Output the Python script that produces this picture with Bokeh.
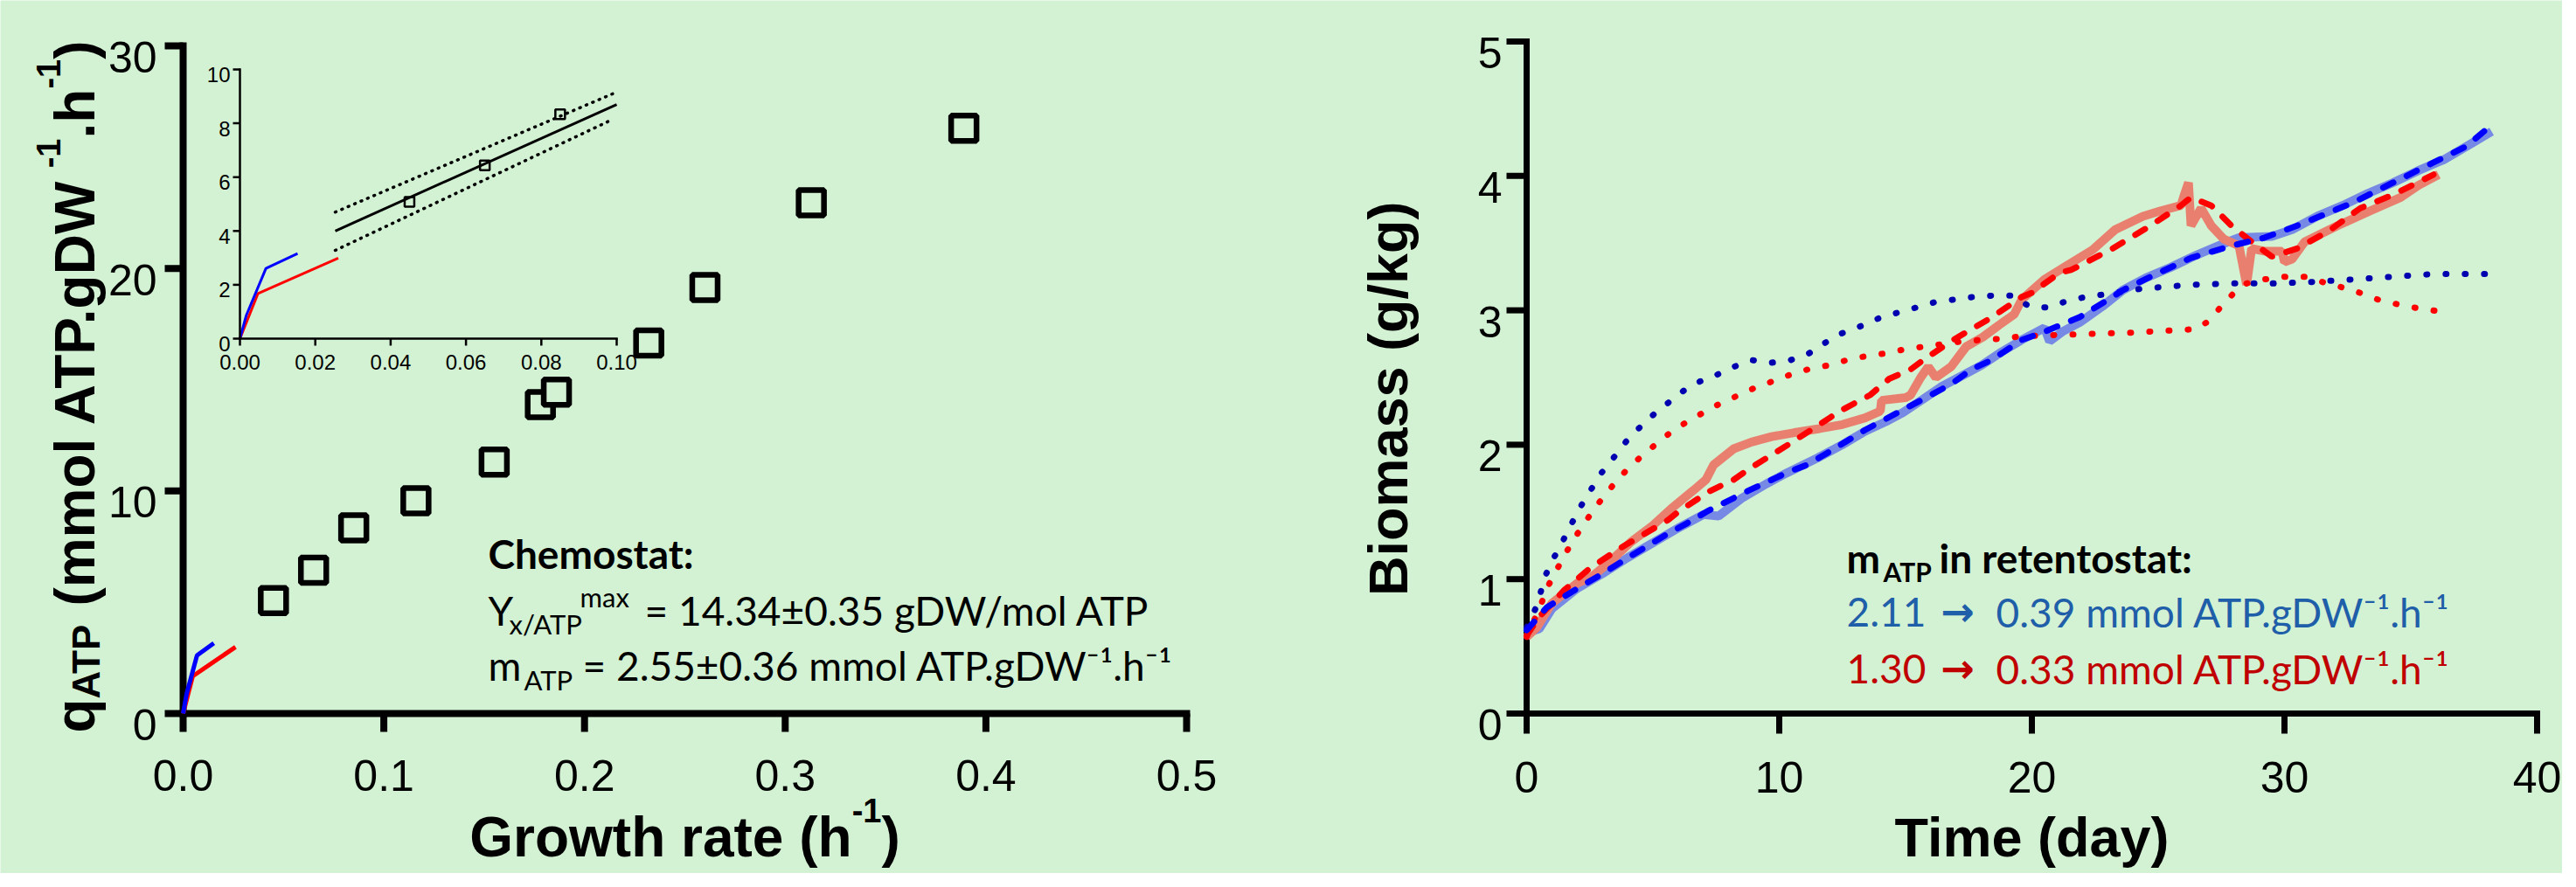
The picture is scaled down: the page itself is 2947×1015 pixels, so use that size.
import numpy as np
from bokeh.plotting import figure
from bokeh.models import Range1d, Label
from bokeh.embed import file_html
from bokeh.resources import INLINE
from bokeh.core.properties import value

BG = "#d3f2d3"
INK = "#000000"

# ---------------- data: left panel (q_ATP vs growth rate) ----------------
chemostat_mu = [0.045, 0.065, 0.085, 0.116, 0.155, 0.178, 0.186, 0.232, 0.260, 0.313, 0.389]
chemostat_q = [5.08, 6.44, 8.34, 9.56, 11.30, 13.88, 14.44, 16.65, 19.14, 22.95, 26.30]
ret_blue_mu = [0.0, 0.0017, 0.0069, 0.0090, 0.0153]
ret_blue_q = [0.0, 0.87, 2.61, 2.75, 3.16]
ret_red_mu = [0.0, 0.0048, 0.0261]
ret_red_q = [0.0, 1.68, 2.99]
fit_mu = [0.0253, 0.100]
fit_q = [4.00, 8.70]
fit_hi_mu = [0.0253, 0.100]
fit_hi_q = [4.70, 9.16]
fit_lo_mu = [0.0253, 0.099]
fit_lo_q = [3.28, 8.15]
inset_n = 3  # first chemostat points shown in inset

left_xticks = [0.0, 0.1, 0.2, 0.3, 0.4, 0.5]
left_xlabels = ["0.0", "0.1", "0.2", "0.3", "0.4", "0.5"]
left_yticks = [0, 10, 20, 30]
left_ylabels = ["0", "10", "20", "30"]
inset_xticks = [0.0, 0.02, 0.04, 0.06, 0.08, 0.10]
inset_xlabels = ["0.00", "0.02", "0.04", "0.06", "0.08", "0.10"]
inset_yticks = [0, 2, 4, 6, 8, 10]
inset_ylabels = ["0", "2", "4", "6", "8", "10"]

# ---------------- data: right panel (biomass vs time) ----------------
blue_dot_day = [0.0, 0.4, 0.75, 1.11, 1.45, 1.80, 2.17, 2.56, 2.96, 3.43, 3.92, 4.43, 5.0, 5.59,
                6.2, 6.85, 7.53, 8.21, 8.9, 9.68, 10.45, 11.18, 11.83, 12.49, 13.2, 13.93, 14.65,
                15.41, 16.15, 16.92, 17.71, 18.5, 19.27, 19.88, 20.65, 21.39, 22.15, 22.93, 24.3,
                26.3, 28.0, 29.5, 31.0, 32.7, 34.3, 35.9, 38.0]
blue_dot_bio = [0.64, 0.80, 1.03, 1.17, 1.29, 1.42, 1.55, 1.67, 1.79, 1.90, 2.02, 2.12, 2.22, 2.31,
                2.40, 2.47, 2.52, 2.58, 2.63, 2.61, 2.63, 2.68, 2.76, 2.83, 2.88, 2.94, 2.98,
                3.02, 3.06, 3.08, 3.10, 3.11, 3.11, 3.03, 3.02, 3.07, 3.10, 3.12, 3.16,
                3.19, 3.20, 3.20, 3.21, 3.23, 3.25, 3.27, 3.27]
red_dot_day = [0.0, 0.5, 0.88, 1.25, 1.63, 2.02, 2.45, 2.91, 3.38, 3.90, 4.46, 5.03, 5.62, 6.26,
               6.91, 7.59, 8.29, 8.99, 9.71, 10.42, 11.13, 11.92, 12.68, 13.45, 14.22, 14.96,
               15.74, 16.51, 17.28, 18.05, 18.9, 19.67, 20.42, 21.22, 22.04, 22.8, 23.58, 24.5,
               25.5, 26.5, 27.0, 27.5, 28.0, 28.5, 29.2, 30.0, 30.8, 31.7, 32.7, 33.7, 34.8, 36.2]
red_dot_bio = [0.57, 0.78, 0.96, 1.09, 1.22, 1.34, 1.46, 1.58, 1.69, 1.80, 1.90, 1.99, 2.08, 2.16,
               2.23, 2.30, 2.36, 2.42, 2.47, 2.52, 2.56, 2.59, 2.63, 2.66, 2.68, 2.71,
               2.73, 2.75, 2.77, 2.78, 2.79, 2.81, 2.81, 2.82, 2.82, 2.83, 2.83, 2.84,
               2.85, 2.86, 2.92, 3.03, 3.13, 3.20, 3.23, 3.25, 3.25, 3.20, 3.15, 3.08, 3.03, 2.99]
blue_dash_day = [0.0, 0.8, 2.0, 3.0, 4.1, 5.6, 6.3, 7.2, 8.8, 10.4, 11.1, 12.0, 13.4, 15.2, 16.8,
                 17.6, 18.4, 19.6, 20.5, 21.9, 23.2, 23.6, 24.7, 26.3, 27.9, 29.2, 30.5, 32.7,
                 34.3, 35.9, 37.2, 38.2]
blue_dash_bio = [0.62, 0.79, 0.93, 1.04, 1.17, 1.34, 1.41, 1.51, 1.66, 1.80, 1.85, 1.95, 2.11, 2.29,
                 2.45, 2.56, 2.63, 2.78, 2.84, 2.95, 3.10, 3.15, 3.25, 3.39, 3.48, 3.54, 3.63, 3.80,
                 3.95, 4.10, 4.22, 4.38]
red_dash_day = [0.0, 0.5, 1.5, 2.5, 3.7, 5.6, 6.0, 7.2, 8.2, 8.8, 10.35, 12.0, 12.3, 13.6, 14.35,
                15.2, 15.7, 16.8, 17.7, 18.35, 19.6, 20.0, 21.1, 21.55, 23.2, 24.7, 25.9, 26.3,
                27.1, 27.9, 28.7, 29.5, 30.5, 31.75, 33.0, 34.3, 35.9]
red_dash_bio = [0.58, 0.72, 0.92, 1.08, 1.23, 1.44, 1.50, 1.65, 1.74, 1.82, 2.00, 2.20, 2.24, 2.37,
                2.49, 2.56, 2.63, 2.77, 2.87, 2.94, 3.10, 3.13, 3.28, 3.30, 3.46, 3.63, 3.78, 3.84,
                3.78, 3.63, 3.51, 3.40, 3.46, 3.59, 3.76, 3.86, 4.01]
blue_meas_day = [0.0, 0.5, 1.0, 2.0, 3.0, 4.0, 5.0, 6.0, 7.0, 7.6, 8.5, 9.5, 10.3, 11.5, 12.5, 13.4,
                 14.2, 14.9, 15.7, 16.4, 17.2, 18.0, 18.8, 19.6, 20.5, 20.7, 21.2, 21.9, 22.8, 23.6,
                 24.5, 25.5, 26.5, 27.5, 28.2, 29.5, 30.3, 31.3, 32.3, 33.3, 34.3, 35.3, 36.3,
                 37.3, 38.2]
blue_meas_bio = [0.60, 0.63, 0.78, 0.93, 1.04, 1.16, 1.27, 1.38, 1.48, 1.47, 1.60, 1.71, 1.79, 1.90,
                 2.00, 2.10, 2.17, 2.24, 2.34, 2.43, 2.51, 2.59, 2.69, 2.78, 2.87, 2.77, 2.84, 2.91,
                 3.03, 3.15, 3.24, 3.32, 3.41, 3.49, 3.54, 3.55, 3.60, 3.70, 3.78, 3.87, 3.95, 4.04,
                 4.12, 4.23, 4.33]
red_meas_day = [0.0, 0.4, 1.0, 2.0, 2.6, 3.3, 4.15, 5.0, 5.7, 6.6, 7.1, 7.4, 8.2, 8.9, 9.7, 10.6,
                11.6, 12.5, 13.4, 14.0, 14.05, 15.0, 15.2, 15.6, 15.9, 16.2, 16.8, 17.4, 18.05,
                18.7, 19.3, 19.6, 20.5, 21.45, 22.4, 23.3, 24.4, 25.1, 25.9, 26.0, 26.2, 26.3,
                26.7, 27.1, 27.6, 28.2, 28.5, 28.7, 29.2, 29.9, 30.0, 30.3, 30.8, 32.1, 33.4,
                34.6, 35.3, 36.1]
red_meas_bio = [0.57, 0.64, 0.82, 0.97, 1.02, 1.13, 1.28, 1.40, 1.52, 1.66, 1.74, 1.85, 1.97, 2.02,
                2.06, 2.09, 2.12, 2.15, 2.20, 2.25, 2.33, 2.35, 2.37, 2.50, 2.58, 2.50, 2.58, 2.73,
                2.80, 2.89, 2.97, 3.08, 3.23, 3.34, 3.45, 3.60, 3.70, 3.74, 3.78, 3.84, 3.95, 3.63,
                3.76, 3.63, 3.53, 3.48, 3.19, 3.46, 3.44, 3.44, 3.36, 3.38, 3.51, 3.63, 3.74,
                3.84, 3.93, 4.01]

right_xticks = [0, 10, 20, 30, 40]
right_xlabels = ["0", "10", "20", "30", "40"]
right_yticks = [0, 1, 2, 3, 4, 5]
right_ylabels = ["0", "1", "2", "3", "4", "5"]

# ---------------- layout (window pixels; page margin 8px) ----------------
OX, OY = 8, 8
CW, CH = 2931, 999
LF = dict(l=217, r=1365, t=60, b=824)     # left chart plot area
RF = dict(l=1754, r=2910, t=55, b=824)    # right chart plot area
IF = dict(l=282, r=713, t=87, b=395)      # inset plot area
LXR, LYR = (0.0, 0.5), (0.0, 30.0)
RXR, RYR = (0.0, 40.0), (0.0, 5.0)
IXR, IYR = (0.0, 0.10), (0.0, 10.0)
BASE_FIX = 0.2   # measured drop of rendered alphabetic baselines, in em


def xrange_for(fr, xr):
    s = (xr[1] - xr[0]) / (fr["r"] - fr["l"])
    return Range1d(xr[0] - (fr["l"] - OX) * s, xr[0] + (OX + CW - fr["l"]) * s)


def yrange_for(fr, yr):
    s = (yr[1] - yr[0]) / (fr["b"] - fr["t"])
    return Range1d(yr[0] - (OY + CH - fr["b"]) * s, yr[0] + (fr["b"] - OY) * s)


ARIAL_BOLD = {"G": 778, "r": 389, "o": 611, "w": 778, "t": 333, "h": 611, " ": 278, "a": 556,
              "e": 556, "(": 333, ")": 333, "-": 333, "1": 556, "q": 611, "A": 722, "T": 611,
              "P": 667, "m": 889, "l": 278, ".": 278, "g": 611, "D": 722, "W": 944}


def wbold(s, size):
    return sum(ARIAL_BOLD[c] for c in s) / 1000.0 * size


def to_data(px, py):
    x = LXR[0] + (px - LF["l"]) / (LF["r"] - LF["l"]) * (LXR[1] - LXR[0])
    y = LYR[0] + (LF["b"] - py) / (LF["b"] - LF["t"]) * (LYR[1] - LYR[0])
    return x, y


p = figure(width=CW, height=CH, x_range=xrange_for(LF, LXR), y_range=yrange_for(LF, LYR),
           output_backend="svg", toolbar_location=None,
           x_axis_location=None, y_axis_location=None,
           min_border=0, min_border_left=0, min_border_right=0, min_border_top=0,
           min_border_bottom=0, background_fill_color=BG, border_fill_color=BG,
           outline_line_color=None)
p.grid.visible = False
p.extra_x_ranges = {"right": xrange_for(RF, RXR), "inset": xrange_for(IF, IXR)}
p.extra_y_ranges = {"right": yrange_for(RF, RYR), "inset": yrange_for(IF, IYR)}
R = dict(x_range_name="right", y_range_name="right")
I = dict(x_range_name="inset", y_range_name="inset")


def add_text(px, py, text, size, color=INK, font="Liberation Sans", style="normal",
             angle=0.0, align="left", baseline="alphabetic"):
    if angle == 0.0:
        py = py - BASE_FIX * size
    else:
        px = px - BASE_FIX * size
    x, y = to_data(px, py)
    p.add_layout(Label(x=x, y=y, text=text, text_font=font, text_font_size=f"{size}px",
                       text_font_style=style, text_color=color, angle=angle,
                       text_align=align, text_baseline=baseline))


def draw_axes(xt, xl, yt, yl, lw, tick_len, font_px, ylab_dx, xlab_dy, ylab_dy, kw):
    x0, x1, y0, y1 = xt[0], xt[-1], yt[0], yt[-1]
    p.line([x0, x1], [y0, y0], line_width=lw, color=INK, line_cap="square", **kw)
    p.line([x0, x0], [y0, y1], line_width=lw, color=INK, line_cap="square", **kw)
    p.ray(x=xt, y=[y0] * len(xt), length=tick_len, angle=-np.pi / 2, length_units="screen",
          line_width=lw, color=INK, **kw)
    p.ray(x=[x0] * len(yt), y=yt, length=tick_len, angle=np.pi, length_units="screen",
          line_width=lw, color=INK, **kw)
    p.text(x=xt, y=[y0] * len(xt), text=xl, text_font=value("Liberation Sans"),
           text_font_size=value(f"{font_px}px"), text_color=INK, text_align="center",
           text_baseline="alphabetic", y_offset=xlab_dy, **kw)
    p.text(x=[x0] * len(yt), y=yt, text=yl, text_font=value("Liberation Sans"),
           text_font_size=value(f"{font_px}px"), text_color=INK, text_align="right",
           text_baseline="alphabetic", x_offset=-ylab_dx, y_offset=ylab_dy, **kw)


# ======================= LEFT CHART: inset =======================
p.line(fit_hi_mu, fit_hi_q, line_width=3.5, color=INK, line_dash="1 7", line_cap="round", **I)
p.line(fit_lo_mu, fit_lo_q, line_width=3.5, color=INK, line_dash="1 7", line_cap="round", **I)
p.line(fit_mu, fit_q, line_width=3, color=INK, **I)
p.line(ret_red_mu, ret_red_q, line_width=3, color="#ff0000", **I)
p.line(ret_blue_mu, ret_blue_q, line_width=3, color="#0000ff", **I)
p.scatter(chemostat_mu[:inset_n], chemostat_q[:inset_n], marker="square", size=11,
          line_width=2.5, line_color=INK, fill_color=None, **I)
draw_axes(inset_xticks, inset_xlabels, inset_yticks, inset_ylabels, 2.5, 8, 24, 11, 27, 6, I)

# ======================= LEFT CHART: main =======================
draw_axes(left_xticks, left_xlabels, left_yticks, left_ylabels, 8, 21, 50, 30, 71, 13, {})
p.line(ret_red_mu, ret_red_q, line_width=5, color="#ff0000")
p.line(ret_blue_mu, ret_blue_q, line_width=5, color="#0000ff")
p.scatter(chemostat_mu, chemostat_q, marker="square", size=29, line_width=6.5,
          line_color=INK, fill_color=BG)

# x axis title: Growth rate (h^-1)
MAIN, SUP, SUB = 64, 38, 44
RAISE = 30
gx = 791 - (wbold("Growth rate (h", MAIN) + wbold("-1", SUP) + wbold(")", MAIN)) / 2
gy = 978
add_text(gx, gy, "Growth rate (h", MAIN, style="bold")
gx += wbold("Growth rate (h", MAIN)
add_text(gx, gy - RAISE + BASE_FIX * (SUP - MAIN), "-1", SUP, style="bold")
gx += wbold("-1", SUP)
add_text(gx, gy, ")", MAIN, style="bold")

# y axis title: q_ATP (mmol ATP.gDW^-1.h^-1), rotated
bx = 106
pieces = [("q", MAIN, 0), ("ATP", SUB, 13), (" ", MAIN, None), ("(mmol ATP.gDW", MAIN, 0),
          ("-1", SUP, -RAISE), (".h", MAIN, 0), ("-1", SUP, -RAISE), (")", MAIN, 0)]
sy = 846
for txt, sz, shift in pieces:
    if shift is not None:
        add_text(bx + shift + BASE_FIX * (sz - MAIN), sy, txt, sz, style="bold", angle=np.pi / 2)
    sy -= wbold(txt, sz)

# Chemostat annotation (Calibri-like)
CF = "Lato"
add_text(566, 650, "Chemostat:", 46, font=CF, style="bold")
add_text(566, 715, "Y", 46, font=CF)
add_text(590, 728, "x/ATP", 31, font=CF)
add_text(671, 697, "max", 31, font=CF)
add_text(745, 715, "= 14.34±0.35 gDW/mol ATP", 46, font=CF)
add_text(566, 778, "m", 46, font=CF)
add_text(607, 792, "ATP", 31, font=CF)
add_text(674, 778, "= 2.55±0.36 mmol ATP.gDW⁻¹.h⁻¹", 46, font=CF)

# ======================= RIGHT CHART =======================
draw_axes(right_xticks, right_xlabels, right_yticks, right_ylabels, 7, 23, 50, 28, 73, 13, R)
p.line(blue_meas_day, blue_meas_bio, line_width=10, color="#6b7de6", alpha=0.9, **R)
p.line(red_meas_day, red_meas_bio, line_width=10, color="#e9806f", **R)
p.line(blue_dot_day, blue_dot_bio, line_width=7, color="#0000b0", line_dash="1 21",
       line_cap="round", **R)
p.line(red_dot_day, red_dot_bio, line_width=7, color="#ff0000", line_dash="1 21",
       line_cap="round", **R)
p.line(red_dash_day, red_dash_bio, line_width=7, color="#ff0000", line_dash="13 17",
       line_cap="round", **R)
p.line(blue_dash_day, blue_dash_bio, line_width=7, color="#0000ff", line_dash="13 17",
       line_cap="round", **R)

add_text(2332, 978, "Time (day)", 63, style="bold", align="center")
add_text(1608, 455, "Biomass  (g/kg)", 63, style="bold", align="center", angle=np.pi / 2)

BLUE_T, RED_T = "#1f5ea8", "#c00000"
add_text(2120, 655, "m", 46, font=CF, style="bold")
add_text(2162, 667, "ATP", 30, font=CF, style="bold")
add_text(2226, 655, "in retentostat:", 46, font=CF, style="bold")
for yy, a, b, col in [(717, "2.11", "0.39", BLUE_T), (782, "1.30", "0.33", RED_T)]:
    add_text(2120, yy, a, 46, font=CF, color=col)
    add_text(2228, yy, "→", 46, font="DejaVu Sans", color=col, style="bold")
    add_text(2291, yy, b + " mmol ATP.gDW⁻¹.h⁻¹", 46, font=CF, color=col)

open("out.html", "w").write(file_html(p, INLINE))
